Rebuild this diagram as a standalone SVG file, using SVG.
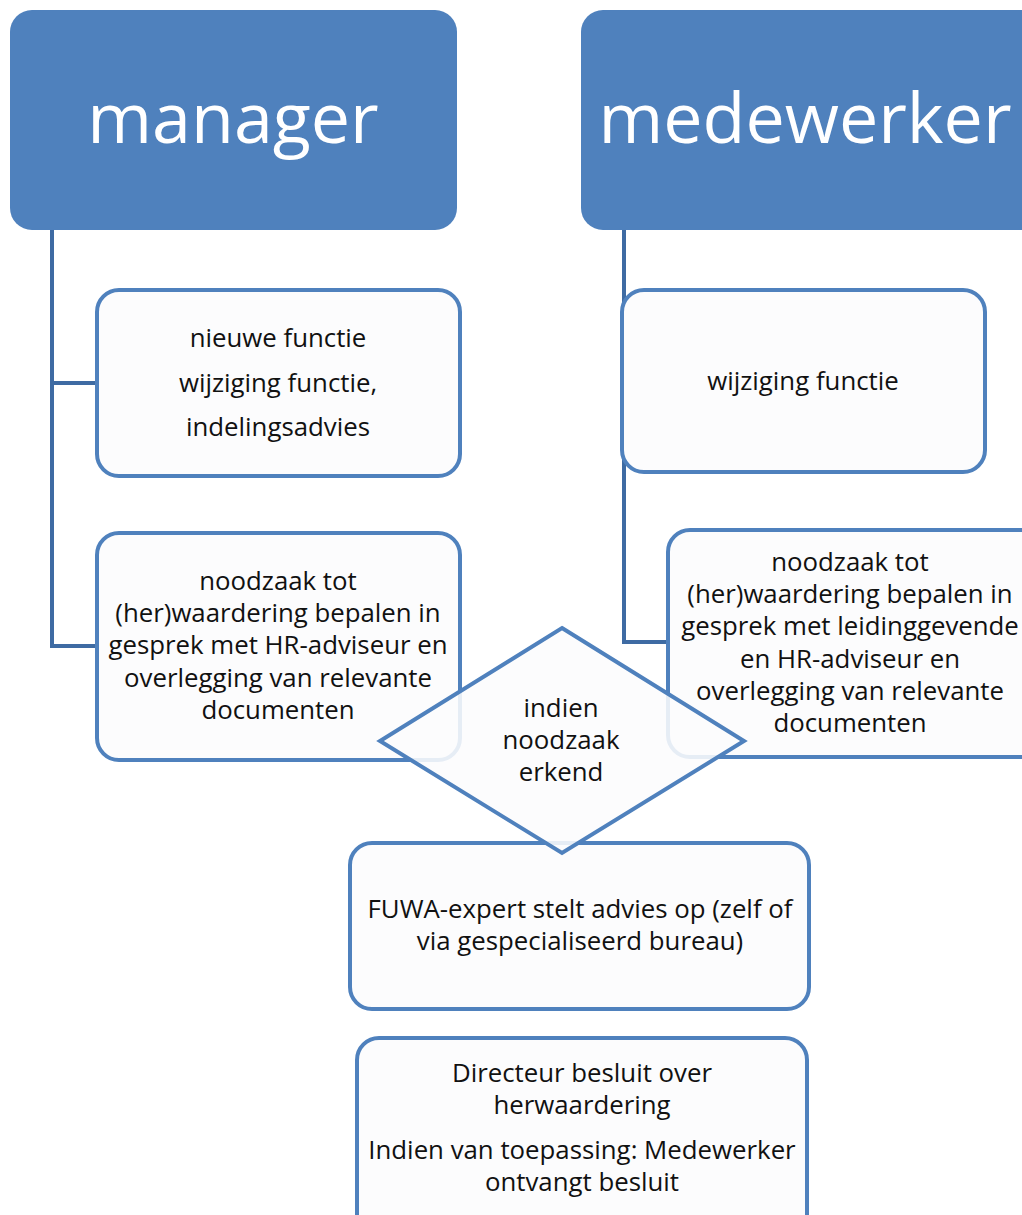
<svg xmlns="http://www.w3.org/2000/svg" width="1022" height="1215" viewBox="0 0 1022 1215">
<style>
.hdr{fill:#4F81BD;}
.hdrt{fill:#FFFFFF;font-family:"Open Sans","Noto Sans",sans-serif;font-size:70px;text-anchor:middle;}
.box{fill:#FCFCFD;stroke:#4F81BD;stroke-width:4;}
.t{fill:#111111;font-family:"Open Sans","Noto Sans",sans-serif;font-size:25.8px;text-anchor:middle;}
.con{fill:none;stroke:#3E6BA3;stroke-width:4;}
.dia{fill:#FCFCFD;fill-opacity:0.88;stroke:#4F81BD;stroke-width:4;stroke-linejoin:miter;}
</style>
<rect width="1022" height="1215" fill="#FFFFFF"/>
<g id="connectors">
<path class="con" d="M52,230 V646 H99 M52,383 H99"/>
<path class="con" d="M624,230 V642 H670"/>
</g>
<g id="manager">
<rect class="hdr" x="10" y="10" width="447" height="220" rx="22"/>
<text class="hdrt" x="233" y="143">manager</text>
</g>
<g id="medewerker">
<rect class="hdr" x="581" y="10" width="470" height="220" rx="22"/>
<text class="hdrt" x="805" y="143">medewerker</text>
</g>
<g id="m1">
<rect class="box" x="97" y="290" width="363" height="186" rx="22"/>
<text class="t" x="278" y="347">nieuwe functie</text>
<text class="t" x="278" y="392">wijziging functie,</text>
<text class="t" x="278" y="436">indelingsadvies</text>
</g>
<g id="w1">
<rect class="box" x="622" y="290" width="363" height="182" rx="22"/>
<text class="t" x="803" y="390">wijziging functie</text>
</g>
<g id="m2">
<rect class="box" x="97" y="533" width="363" height="227" rx="22"/>
<text class="t" x="278" y="590">noodzaak tot</text>
<text class="t" x="278" y="622">(her)waardering bepalen in</text>
<text class="t" x="278" y="654">gesprek met HR-adviseur en</text>
<text class="t" x="278" y="687">overlegging van relevante</text>
<text class="t" x="278" y="719">documenten</text>
</g>
<g id="w2">
<rect class="box" x="668" y="530" width="380" height="227" rx="22"/>
<text class="t" x="850" y="571">noodzaak tot</text>
<text class="t" x="850" y="603">(her)waardering bepalen in</text>
<text class="t" x="850" y="635">gesprek met leidinggevende</text>
<text class="t" x="850" y="668">en HR-adviseur en</text>
<text class="t" x="850" y="700">overlegging van relevante</text>
<text class="t" x="850" y="732">documenten</text>
</g>
<g id="fuwa">
<rect class="box" x="350" y="843" width="459" height="166" rx="22"/>
<text class="t" x="580" y="918">FUWA-expert stelt advies op (zelf of</text>
<text class="t" x="580" y="950">via gespecialiseerd bureau)</text>
</g>
<g id="besluit">
<rect class="box" x="357" y="1038" width="450" height="200" rx="22"/>
<text class="t" x="582" y="1082">Directeur besluit over</text>
<text class="t" x="582" y="1114">herwaardering</text>
<text class="t" x="582" y="1159">Indien van toepassing: Medewerker</text>
<text class="t" x="582" y="1191">ontvangt besluit</text>
</g>
<g id="diamond">
<polygon class="dia" points="562,628 744,741 562,853 380,741"/>
<text class="t" x="561" y="717">indien</text>
<text class="t" x="561" y="749">noodzaak</text>
<text class="t" x="561" y="781">erkend</text>
</g>
</svg>
